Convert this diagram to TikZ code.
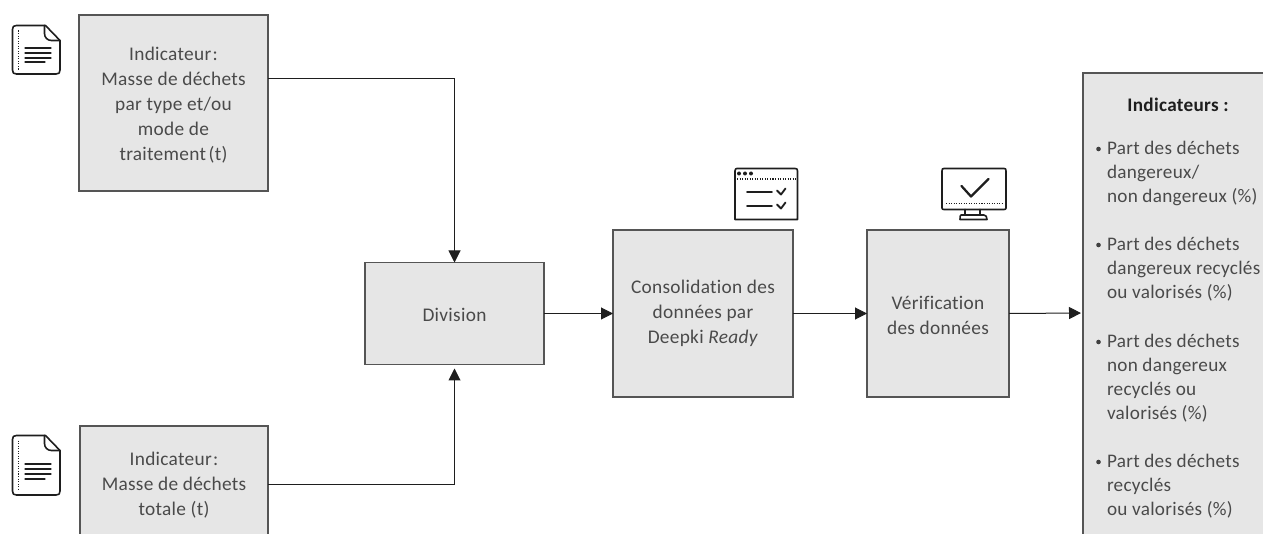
\documentclass[tikz,border=0pt]{standalone}
\usepackage{fontspec}
\setmainfont[LetterSpace=1.5,Ligatures=NoCommon]{Carlito}
\usetikzlibrary{arrows.meta}
\definecolor{boxfill}{HTML}{E6E6E6}
\definecolor{boxline}{HTML}{555555}
\definecolor{txt}{HTML}{4A4A4A}
\definecolor{ink}{HTML}{1E1E1E}
\tikzset{
  every picture/.append style={x=0.75pt,y=-0.75pt},
  flowbox/.style={draw=boxline,fill=boxfill,line width=0.8pt,inner sep=0pt,outer sep=0pt,align=center,text=txt,font=\fontsize{14.5pt}{18.75pt}\selectfont},
  boxtext/.style={inner sep=0pt,outer sep=0pt,align=center,text=txt,font=\fontsize{14.5pt}{18.75pt}\selectfont},
  listtext/.style={anchor=west,inner sep=0pt,outer sep=0pt,align=left,text=txt,font=\fontsize{14.4pt}{18pt}\selectfont},
  flow/.style={draw=ink,line width=0.75pt,-{Triangle[length=9pt,width=9pt]}},
  icon/.style={draw=ink,line width=1.2pt,line join=round,line cap=round},
  dots/.style={draw=ink,line width=1pt,dash pattern=on 0.8pt off 1.1pt},
}
\newcommand{\docicon}[4]{% x left, y top, x right, y bottom
  \draw[icon] (#1+33,#2) -- (#1+4,#2) .. controls (#1+1,#2) and (#1,#2+1) .. (#1,#2+4) -- (#1,#4-4) .. controls (#1,#4-1) and (#1+1,#4) .. (#1+4,#4) -- (#3-4,#4) .. controls (#3-1,#4) and (#3,#4-1) .. (#3,#4-4) -- (#3,#2+15) -- cycle;
  \draw[icon] (#1+32,#2) -- (#1+32,#2+8) .. controls (#1+32,#2+12) and (#1+35,#2+15) .. (#1+39,#2+15) -- (#3,#2+15);
  \draw[dots] (#1+6,#2+5) -- (#1+6,#4-4);
}
\begin{document}
\begin{tikzpicture}
\useasboundingbox (0,0) rectangle (1263,534);
\clip (0,0) rectangle (1263,534);
% boxes
\node[flowbox,minimum width=141.75pt,minimum height=132pt] (a) at (173.5,103) {};
\node[boxtext] (atext) at (173.5,105.5) {Indicateur\kern1pt:\\Masse de déchets\\par type et/ou\\mode de\\traitement\kern-1.5pt\ (t)};
\node[flowbox,minimum width=141pt,minimum height=87pt] (b) at (174,484) {};
\node[boxtext] (btext) at (174,485.5) {Indicateur\kern1pt:\\Masse de déchets\\totale (t)};
\node[flowbox,minimum width=134.25pt,minimum height=76.5pt] (div) at (454.5,313.5) {};
\node[boxtext] (divtext) at (454.5,314.5) {Division};
\node[flowbox,minimum width=135pt,minimum height=125.25pt] (cons) at (703,313.5) {};
\node[boxtext] (constext) at (703,313.5) {Consolidation des\\données par\\Deepki \textit{Ready}};
\node[flowbox,minimum width=106.5pt,minimum height=125.25pt] (verif) at (938,313.5) {};
\node[boxtext] (veriftext) at (938,315) {Vérification\\des données};
\node[flowbox,minimum width=150pt,minimum height=360pt] (ind) at (1183,313) {};
% list text
\node[listtext,anchor=center,font=\fontsize{14.4pt}{18pt}\selectfont\bfseries,text=ink] (title) at (1178,105) {Indicateurs :};
\node[listtext] (l1) at (1107,173) {Part des déchets\\dangereux/\\non dangereux (\%)};
\node[listtext] (l2) at (1107,269) {Part des déchets\\dangereux recyclés\\ou valorisés (\%)};
\node[listtext] (l3) at (1107,378.5) {Part des déchets\\non dangereux\\recyclés ou\\valorisés (\%)};
\node[listtext] (l4) at (1107,486) {Part des déchets\\recyclés\\ou valorisés (\%)};
\foreach \yy/\nn in {149/p1,245/p2,342/p3,462/p4}
  \fill[ink!85] (1098.5,\yy) circle (2.3);
% connectors
\draw[flow] ([yshift=18pt]a.east) -| (div.north);
\draw[flow] (b.east) -| ([yshift=-3pt]div.south);
\draw[flow] (div.east) -- (cons.west);
\draw[flow] (cons.east) -- (verif.west);
\draw[flow,shorten >=1.5pt] (verif.east) -- (ind.west);
% document icons
\docicon{12.5}{25.5}{60}{74}
\foreach \yy/\ww in {48/51,53/51,58/51,62/45} \draw[icon,line width=.9pt] (25,\yy) -- (\ww,\yy);
\docicon{12.5}{435.5}{60}{495}
\foreach \yy/\ww in {464/51,469/51,474/51,479/45} \draw[icon,line width=.9pt] (25,\yy) -- (\ww,\yy);
% checklist window
\draw[icon] (735,171) .. controls (735,169) and (736,168.5) .. (737,168.5) -- (795,168.5) .. controls (797,168.5) and (797.5,169) .. (797.5,171) -- (797.5,219.5) -- (735,219.5) -- cycle;
\draw[dots] (737,179) -- (796,179);
\foreach \xx in {739,745,751} \fill[ink] (\xx,173.5) circle (2);
\draw[icon] (747,192) -- (772,192);
\draw[icon] (747,206) -- (772,206);
\draw[icon,line width=1.4pt] (777,190.5) -- (781,194.5) -- (785.5,188.5);
\draw[icon,line width=1.4pt] (777,204.5) -- (781,208.5) -- (785.5,202.5);
% monitor
\draw[icon] (944,168.5) -- (1004,168.5) .. controls (1005.5,168.5) and (1006,169) .. (1006,171) -- (1006,208) .. controls (1006,209) and (1005.5,209.5) .. (1004,209.5) -- (944,209.5) .. controls (942.5,209.5) and (942,209) .. (942,208) -- (942,171) .. controls (942,169) and (942.5,168.5) .. (944,168.5) -- cycle;
\draw[dots] (946,203.5) -- (1003,203.5);
\draw[icon,line width=1.7pt] (961.5,186) -- (971,196.5) -- (988.5,179);
\draw[icon] (965,209.5) -- (965,215) (980,209.5) -- (980,215);
\draw[icon] (961,215) -- (984,215) .. controls (986,215) and (987,217) .. (987,219.5) -- (960,219.5) .. controls (960,217) and (960,215) .. (961,215);
\end{tikzpicture}
\end{document}
